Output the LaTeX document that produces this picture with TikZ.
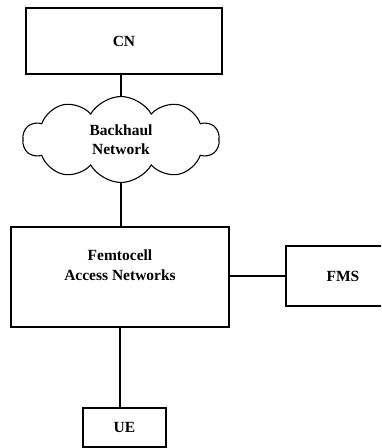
\documentclass[tikz,border=0pt]{standalone}
\usepackage{fontspec}
\setmainfont{Liberation Serif}
\usetikzlibrary{shapes.symbols}
\begin{document}
\begin{tikzpicture}[x=1pt,y=-1pt,
  box/.style={draw, line width=1.3pt, rectangle, inner sep=0pt, font=\fontsize{15.5}{19.5}\selectfont\bfseries, align=center},
  link/.style={line width=1.3pt}]
\useasboundingbox (0,0) rectangle (381,448);
\clip (0,0) rectangle (381,448);
\node[box, minimum width=196, minimum height=66] (cn) at (124,41) {CN};
\node[draw, line width=1.1pt, cloud, cloud puffs=10, cloud puff arc=120, aspect=2.3, cloud ignores aspect,
  minimum width=196, minimum height=86, inner sep=0pt,
  font=\fontsize{15.5}{19.5}\selectfont\bfseries, align=center] (cloud) at (121,139.5) {Backhaul\\Network};
\node[box, minimum width=114, minimum height=60] (fms) at (343,276) {FMS};
\node[box, minimum width=218, minimum height=100] (femto) at (120,277) {Femtocell\\Access Networks\\[4pt]};
\node[box, minimum width=83, minimum height=39] (ue) at (124.5,427.5) {UE};
\draw[link] (cloud.north) -- (cloud.north |- cn.south);
\draw[link] (cloud.south) -- (cloud.south |- femto.north);
\draw[link] (femto.east |- fms.west) -- (fms.west);
\draw[link] (femto.south) -- (femto.south |- ue.north);
\end{tikzpicture}
\end{document}
